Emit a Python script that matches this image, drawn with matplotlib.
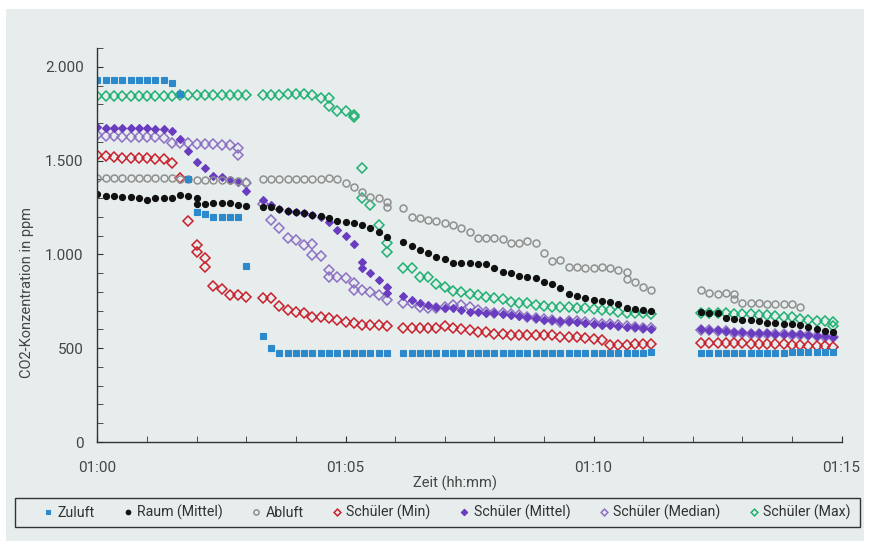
import matplotlib
matplotlib.use("Agg")
import matplotlib.pyplot as plt
from matplotlib.ticker import MultipleLocator, FuncFormatter
from matplotlib.lines import Line2D
from matplotlib.patches import Rectangle

plt.rcParams['font.family'] = ['Roboto', 'DejaVu Sans']

# segment start times (seconds after 01:00:00), sampling every 10 s
seg_start_s = [0, 200, 370, 730]
step_s = 10

# values per segment; a tuple means two readings at the same timestamp
zuluft = [
    [1930, 1930, 1930, 1930, 1930, 1930, 1930, 1930, 1930, 1915, 1855, 1400, 1225, 1215, 1200, 1200, 1200, 1200, 940],
    [565, 499, 476, 472, 472, 472, 472, 472, 472, 472, 472, 472, 472, 472, 472, 472],
    [476, 476, 476, 476, 476, 476, 476, 476, 476, 476, 476, 476, 476, 476, 476, 476, 476, 476, 476, 476,
     476, 476, 476, 476, 476, 476, 476, 476, 476, 476, 478],
    [476, 476, 476, 476, 476, 476, 476, 476, 476, 477, 477, 478, 478, 478, 478, 478, 478],
]
raum = [
    [1320, 1312, 1312, 1307, 1305, 1302, 1290, 1298, 1302, 1302, 1314, 1311, (1300, 1270), 1268, 1272, 1275, 1272, 1263, 1258],
    [1254, 1250, 1240, 1232, 1227, 1220, 1212, 1204, 1192, 1180, 1174, 1168, 1156, 1138, 1121, 1092],
    [1067, 1044, 1023, 1005, 987, 977, 952, 952, 952, 947, 947, 925, 907, 902, 886, 877, 872, 854, 842, 822,
     790, 778, 766, 757, 751, 744, 733, 712, 707, 703, 698],
    [694, 686, 686, 659, 654, 650, 650, 646, 636, 632, 629, 629, 623, 614, 600, 593, 588],
]
abluft = [
    [1405, 1405, 1405, 1405, 1405, 1405, 1405, 1405, 1405, 1405, 1403, 1400, 1398, 1396, 1396, 1395, 1395, 1393, 1385],
    [1400, 1400, 1400, 1400, 1400, 1400, 1400, 1402, 1405, 1400, 1378, 1357, 1334, 1304, 1298, (1280, 1254)],
    [1245, 1197, 1192, 1183, 1177, 1165, 1156, 1138, 1121, 1085, 1085, 1085, 1080, 1062, 1058, 1071, 1059, 1005, 966, 968,
     934, 934, 925, 925, 934, 930, 916, (907, 867), 854, 827, 810],
    [810, 795, 788, 795, (788, 760), 742, 742, 739, 737, 733, 733, 733, 721],
]
schueler_min = [
    [1529, 1524, 1517, 1515, 1515, 1515, 1515, 1506, 1506, 1485, 1405, 1177, (1050, 1014), (979, 934), 831, 814, 783, 783, 771],
    [765, 765, 725, 703, 694, 686, 668, 668, 659, 650, 641, 632, 623, 622, 622, 620],
    [609, 609, 607, 607, 609, 620, 609, 600, 595, 588, 584, 575, 577, 570, 570, 570, 570, 570, 568, 561,
     561, 558, 552, 548, 543, 517, 517, 517, 520, 520, 520],
    [529, 529, 529, 529, 527, 527, 525, 525, 522, 522, 520, 518, 516, 514, 512, 510, 508],
]
schueler_mittel = [
    [1680, 1675, 1675, 1671, 1671, 1671, 1671, 1668, 1668, 1659, 1613, 1552, 1493, 1458, 1417, 1413, 1396, 1387, 1339],
    [1289, 1263, 1240, 1230, 1227, 1218, 1209, 1200, 1172, 1131, 1096, 1055, (961, 925), 899, 866, (827, 792)],
    [778, 757, 739, 730, 721, 716, 712, 703, 694, 694, 690, 686, 682, 677, 672, 668, 660, 652, 650, 647,
     645, 641, 635, 629, 625, 623, 618, 615, 611, 607, 602],
    [600, 598, 596, 590, 586, 586, 582, 580, 579, 578, 577, 576, 574, 570, 566, 563, 561],
]
schueler_median = [
    [1636, 1632, 1632, 1627, 1623, 1623, 1623, 1623, 1618, 1591, 1594, 1591, 1588, 1588, 1588, 1582, 1582, (1565, 1529), 1380],
    [1270, 1183, 1138, 1085, 1076, 1050, (1055, 996), 990, (916, 882), 881, 875, (850, 810), 810, 801, 783, 757],
    [739, 739, 721, 712, 712, 721, 730, 730, 721, 703, 694, 690, 686, 680, 675, 668, 662, 655, 650, 641,
     645, 643, 640, 635, 630, 628, 625, 620, 615, 610, 605],
    [598, 596, 593, 590, 583, 580, 578, 577, 576, 575, 574, 572, 570, 568, 565, 562, 560],
]
schueler_max = [
    [1843, 1843, 1843, 1845, 1845, 1845, 1845, 1845, 1845, 1845, 1847, 1847, 1847, 1847, 1847, 1847, 1847, 1847, 1848],
    [1852, 1852, 1852, 1856, 1856, 1856, 1852, 1836, (1836, 1790), 1765, 1765, (1742, 1730), (1458, 1298), 1263, 1156, (1059, 1014)],
    [925, 925, 881, 881, 842, 827, 806, 800, 788, 783, 774, 770, 760, 747, 739, 739, 730, 725, 721, 718,
     717, 712, 712, 708, 703, 703, 694, 690, 686, 686, 680],
    [686, 686, 686, 686, 684, 682, 682, 677, 677, 673, 668, 665, 656, 650, 645, 643, (641, 620)],
]

labels = ["Zuluft", "Raum (Mittel)", "Abluft", "Schüler (Min)", "Schüler (Mittel)",
          "Schüler (Median)", "Schüler (Max)"]
x_tick_labels = ["01:00", "01:05", "01:10", "01:15"]


def expand(segments):
    ts, vs = [], []
    for start, vals in zip(seg_start_s, segments):
        for k, v in enumerate(vals):
            t = (start + step_s * k) / 60.0
            for vv in (v if isinstance(v, tuple) else (v,)):
                ts.append(t)
                vs.append(vv)
    return ts, vs


W, H = 870, 548
bg = "#e7eded"
fig = plt.figure(figsize=(W / 100, H / 100), dpi=100, facecolor="white")
# light panel behind the chart (white strip at the edges)
fig.patches.append(Rectangle((6 / W, 1 - 541 / H), (864 - 6) / W, (541 - 9) / H,
                             transform=fig.transFigure, facecolor=bg, edgecolor="none", zorder=-10))

ax = fig.add_axes([97.5 / W, 1 - 442 / H, (841.5 - 97.5) / W, (442 - 48) / H])
ax.set_facecolor("none")

styles = {
    "Zuluft": dict(marker="s", mfc="#2c89cc", mec="#2c89cc", ms=4.2),
    "Raum (Mittel)": dict(marker="o", mfc="#111111", mec="#111111", ms=4.4),
    "Abluft": dict(marker="o", mfc="none", mec="#8f8f8f", ms=5.0, mew=1.1),
    "Schüler (Min)": dict(marker="D", mfc="none", mec="#c8202c", ms=4.6, mew=1.1),
    "Schüler (Mittel)": dict(marker="D", mfc="#6a3cbf", mec="#6a3cbf", ms=4.4),
    "Schüler (Median)": dict(marker="D", mfc="none", mec="#8d70c4", ms=4.6, mew=1.1),
    "Schüler (Max)": dict(marker="D", mfc="none", mec="#1fb072", ms=4.6, mew=1.1),
}
data = {
    "Zuluft": zuluft, "Raum (Mittel)": raum, "Abluft": abluft,
    "Schüler (Min)": schueler_min, "Schüler (Mittel)": schueler_mittel,
    "Schüler (Median)": schueler_median, "Schüler (Max)": schueler_max,
}

for name in reversed(labels):
    ts, vs = expand(data[name])
    st = styles[name]
    ax.plot(ts, vs, linestyle="none", marker=st["marker"], ms=st["ms"],
            mfc=st["mfc"], mec=st["mec"], mew=st.get("mew", 0.8))

ax.set_xlim(0, 15)
ax.set_ylim(0, 2100)
ax.xaxis.set_minor_locator(MultipleLocator(1))
ax.set_xticks([0, 5, 10, 15])
ax.set_xticklabels(x_tick_labels)
ax.set_yticks([0, 500, 1000, 1500, 2000])
ax.yaxis.set_minor_locator(MultipleLocator(100))
ax.yaxis.set_major_formatter(FuncFormatter(lambda v, p: f"{int(v):,}".replace(",", ".")))

for s in ["top", "right"]:
    ax.spines[s].set_visible(False)
for s in ["left", "bottom"]:
    ax.spines[s].set_color("#333333")
    ax.spines[s].set_linewidth(1.0)
ax.tick_params(axis="both", which="both", direction="in", length=4, color="#333333",
               labelsize=11, labelcolor="#454545")
ax.tick_params(axis="x", pad=14)
ax.tick_params(axis="y", pad=10)

fig.text(27 / W, 1 - 292 / H, "CO2-Konzentration in ppm", rotation=90,
         ha="center", va="center", fontsize=10.5, color="#454545")
fig.text(455 / W, 1 - 483 / H, "Zeit (hh:mm)", ha="center", va="center",
         fontsize=10.5, color="#454545")

# legend frame
fig.patches.append(Rectangle((15 / W, 1 - 527 / H), (860 - 15) / W, (527 - 498) / H,
                             transform=fig.transFigure, facecolor="none",
                             edgecolor="#333333", linewidth=1.0, zorder=5))
handles = []
for name in labels:
    st = styles[name]
    handles.append(Line2D([], [], linestyle="none", marker=st["marker"], ms=st["ms"] * 0.75,
                          mfc=st["mfc"], mec=st["mec"], mew=st.get("mew", 0.8)))
leg = fig.legend(handles, labels, loc="center", ncol=7,
                 bbox_to_anchor=(447 / W, 1 - 512.5 / H),
                 frameon=False, fontsize=10.2, handlelength=0.6, handletextpad=0.35,
                 columnspacing=2.07, borderaxespad=0, borderpad=0)
for t in leg.get_texts():
    t.set_color("#303030")

fig.savefig("out.png", dpi=100, facecolor="white")
